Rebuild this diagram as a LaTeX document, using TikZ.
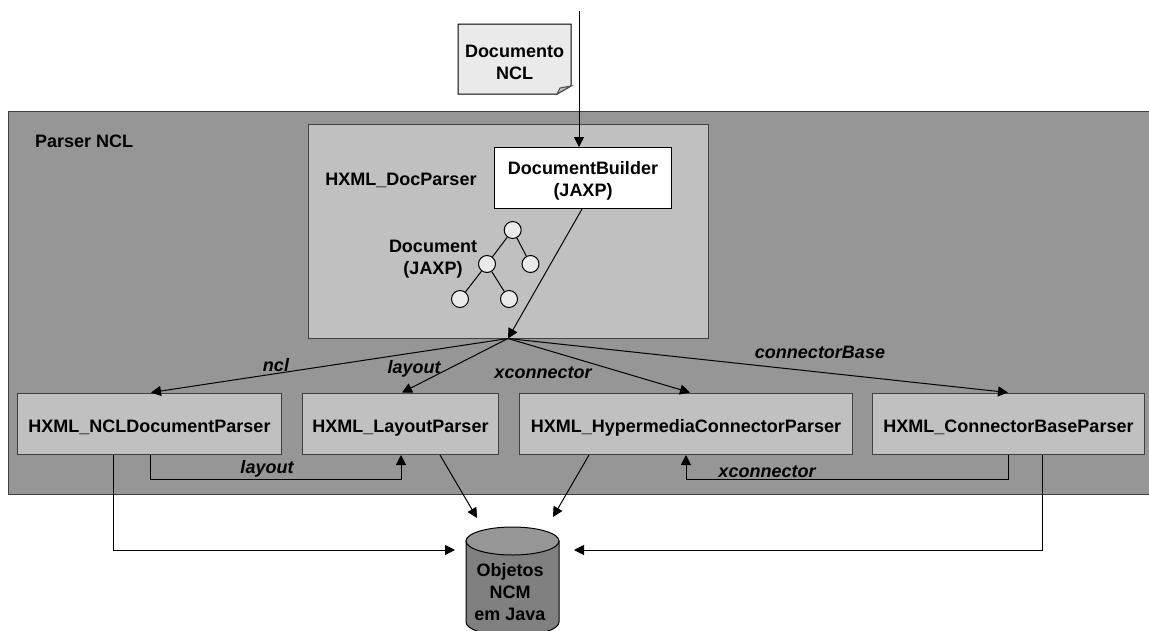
\documentclass[tikz,border=0pt]{standalone}
\usepackage{fontspec}
\setmainfont{Liberation Sans}
\usetikzlibrary{calc,arrows.meta}
\definecolor{outergray}{HTML}{969696}
\definecolor{innergray}{HTML}{C0C0C0}
\definecolor{lightgray2}{HTML}{EAEAEA}
\definecolor{cylbody}{HTML}{808080}
\tikzset{
 lab/.style={font=\fontsize{18}{22}\selectfont\bfseries,align=center,inner sep=0pt,text=black},
 ilab/.style={font=\fontsize{18}{22}\selectfont\bfseries\itshape,inner sep=0pt,text=black},
 panel/.style={draw=black!75,line width=1pt,inner sep=0pt,anchor=north west},
 parserbox/.style={panel,fill=innergray,font=\fontsize{18}{22}\selectfont\bfseries,text height=19pt,text depth=2pt},
 treenode/.style={circle,draw=black,fill=lightgray2,line width=1pt,minimum size=17pt,inner sep=0pt},
 tedge/.style={draw=black,line width=1pt},
 conn/.style={draw=black,line width=1pt,-{Triangle[length=10pt,width=10pt]}},
}
\begin{document}
\begin{tikzpicture}[x=1pt,y=-1pt]
\useasboundingbox (0,0) rectangle (1149,630);
\clip (0,0) rectangle (1149,630);
% panels
\node[panel,fill=outergray,minimum width=1150pt,minimum height=383pt] (parser) at (8,111) {};
\node[panel,fill=innergray,minimum width=400pt,minimum height=214pt] (docparser) at (308,124) {};
\node[lab,anchor=west] (parserlab) at (35,141) {Parser NCL};
\node[lab] (docparserlab) at (401,180) {HXML\_DocParser};
% document note
\path[draw=black,line width=1pt,fill=lightgray2] (458,24) -- (571,24) -- (571,86) -- (557,94) -- (458,94) -- cycle;
\path[draw=black!70,line width=1pt,fill=innergray] (571,86) -- (560,88) -- (557,94) -- cycle;
\node[lab] (note) at (514.5,62) {Documento\\NCL};
\coordinate (entry) at (579,11);
% builder
\node[panel,draw=black,fill=white,minimum width=177pt,minimum height=61pt,font=\fontsize{18}{22}\selectfont\bfseries,align=center] (builder) at (494,147) {\rule{0pt}{19.5pt}DocumentBuilder\\(JAXP)};
% tree
\node[lab] (doclab) at (433,259.5) {Document\\(JAXP)};
\node[treenode] (t1) at (512.7,230) {};
\node[treenode] (t2) at (487,264) {};
\node[treenode] (t3) at (530.5,264) {};
\node[treenode] (t4) at (460,299) {};
\node[treenode] (t5) at (509,299) {};
\draw[tedge] (t1) -- (t2);
\draw[tedge] (t1) -- (t3);
\draw[tedge] (t2) -- (t4);
\draw[tedge] (t2) -- (t5);
% parsers
\node[parserbox,minimum width=264pt,minimum height=61.5pt] (ncl) at (17,392.5) {HXML\_NCLDocumentParser};
\node[parserbox,minimum width=196pt,minimum height=61.5pt] (layout) at (302,392.5) {HXML\_LayoutParser};
\node[parserbox,minimum width=333pt,minimum height=61.5pt] (hyper) at (519,392.5) {HXML\_HypermediaConnectorParser};
\node[parserbox,minimum width=272pt,minimum height=61.5pt] (base) at (872,392.5) {HXML\_ConnectorBaseParser};
% cylinder
\path[draw=black,line width=1pt,fill=cylbody] (466,541) -- (466,622) arc[start angle=180,end angle=0,x radius=46.5,y radius=14] -- (559,541) -- cycle;
\path[draw=black,line width=1pt,fill=outergray] (512.5,541) ellipse[x radius=46.5,y radius=14];
\node[lab] (dblab) at (510,592) {Objetos\\NCM\\em Java};
% connectors
\coordinate (hub) at (508,338.5);
\draw[conn] (entry) -- (entry |- builder.north);
\draw[conn] ($(builder.south west)+(88,0)$) -- (hub);
\draw[conn] (hub) -- ($(ncl.north west)+(134,0)$);
\draw[conn] (hub) -- ($(layout.north west)+(100,0)$);
\draw[conn] (hub) -- ($(hyper.north west)+(171,0)$);
\draw[conn] (hub) -- ($(base.north west)+(136,0)$);
\coordinate (dbleft) at (455,550);
\coordinate (dbright) at (574,550);
\coordinate (dbtl) at (477,518);
\coordinate (dbtr) at (553,517);
\draw[conn] ($(ncl.south west)+(96,0)$) |- (dbleft);
\draw[conn] ($(base.south west)+(170,0)$) |- (dbright);
\draw[conn] ($(layout.south west)+(138,0)$) -- (dbtl);
\draw[conn] ($(hyper.south west)+(70,0)$) -- (dbtr);
\draw[conn] ($(ncl.south west)+(133,0)$) -- ++(0,24) -| ($(layout.south west)+(99,0)$);
\draw[conn] ($(base.south west)+(136,0)$) -- ++(0,24) -| ($(hyper.south west)+(167,0)$);
% labels
\node[ilab] (l1) at (276,365) {ncl};
\node[ilab] (l2) at (414,368.5) {layout};
\node[ilab] (l3) at (543,373) {xconnector};
\node[ilab] (l4) at (820,352.5) {connectorBase};
\node[ilab] (l5) at (267,468.5) {layout};
\node[ilab] (l6) at (767,472) {xconnector};
\end{tikzpicture}
\end{document}
